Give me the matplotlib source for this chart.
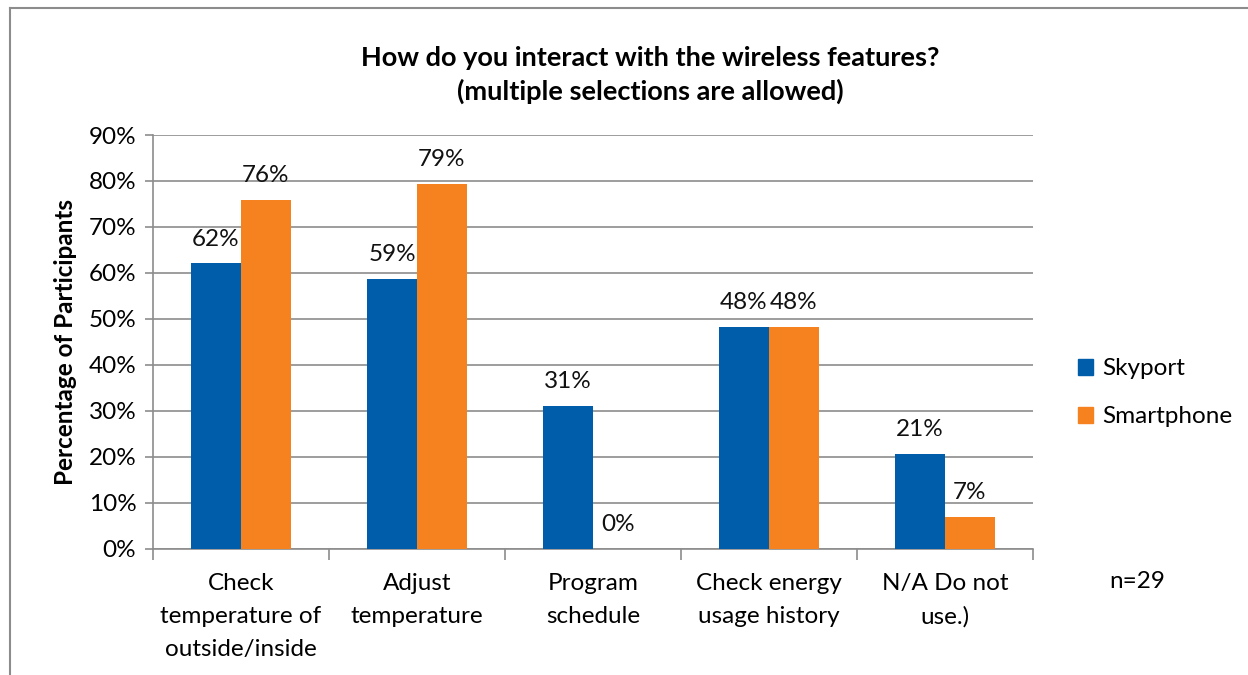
import numpy as np
import matplotlib.pyplot as plt
from matplotlib.lines import Line2D
from matplotlib.patches import Patch

categories = ["Check\ntemperature of\noutside/inside", "Adjust\ntemperature",
              "Program\nschedule", "Check energy\nusage history", "N/A Do not\nuse.)"]
skyport = [62.07, 58.62, 31.03, 48.28, 20.69]
smartphone = [75.86, 79.31, 0.0, 48.28, 6.90]
yticks = [0, 10, 20, 30, 40, 50, 60, 70, 80, 90]

BLUE = "#005DAA"
ORANGE = "#F5821F"
GRID = "#8C8C8C"
FS = 17.5

plt.rcParams["font.family"] = ["Lato", "DejaVu Sans"]

fig = plt.figure(figsize=(12.48, 6.75), dpi=100)
ax = fig.add_axes([0.1226, 0.1867, 0.7051, 0.6133])

x = np.arange(len(categories)) + 0.5
w = 0.284
b1 = ax.bar(x - w / 2, skyport, w, color=BLUE, label="Skyport", zorder=3)
b2 = ax.bar(x + w / 2, smartphone, w, color=ORANGE, label="Smartphone", zorder=3)

for bars, vals in ((b1, skyport), (b2, smartphone)):
    for r, v in zip(bars, vals):
        ax.annotate(f"{v:.0f}%", (r.get_x() + r.get_width() / 2, v),
                    xytext=(0, 10), textcoords="offset points",
                    ha="center", va="bottom", fontsize=FS, color="#111111")

ax.set_xlim(0, 5)
ax.set_ylim(0, 90)
ax.set_yticks(yticks)
ax.set_yticklabels([f"{t}%" for t in yticks], fontsize=FS)
ax.set_xticks(np.arange(6))
ax.set_xticklabels([])
ax.set_xticks(x, minor=True)
ax.set_xticklabels(categories, minor=True, fontsize=FS, linespacing=1.72)
ax.tick_params(axis="x", which="minor", length=0, pad=17)
ax.tick_params(axis="x", which="major", length=8, color=GRID, width=1.2)
ax.tick_params(axis="y", length=6, color=GRID, width=1.2, pad=6)
ax.yaxis.grid(True, color=GRID, linewidth=1.2, zorder=0)
for s in ("top", "right"):
    ax.spines[s].set_visible(False)
for s in ("left", "bottom"):
    ax.spines[s].set_color(GRID)
    ax.spines[s].set_linewidth(1.2)

ax.set_ylabel("Percentage of Participants", fontsize=FS, fontweight="bold", labelpad=8)
fig.text(0.521, 0.889, "How do you interact with the wireless features?\n(multiple selections are allowed)",
         ha="center", va="center", fontsize=19.5, fontweight="bold", linespacing=1.45)

handles = [Patch(color=BLUE), Patch(color=ORANGE)]
fig.legend(handles, ["Skyport", "Smartphone"], loc="center left",
           bbox_to_anchor=(0.846, 0.418), frameon=False, fontsize=FS,
           handlelength=0.65, handleheight=0.65, handletextpad=0.35, labelspacing=1.1)
fig.text(0.911, 0.139, "n=29", ha="center", va="center", fontsize=FS)

# chart border
fig.add_artist(Line2D([0.008, 0.008], [0.0, 0.988], color="#8C8C8C", linewidth=1.5))
fig.add_artist(Line2D([0.008, 1.0], [0.988, 0.988], color="#8C8C8C", linewidth=1.5))

fig.savefig("out.png", dpi=100, facecolor="white")
